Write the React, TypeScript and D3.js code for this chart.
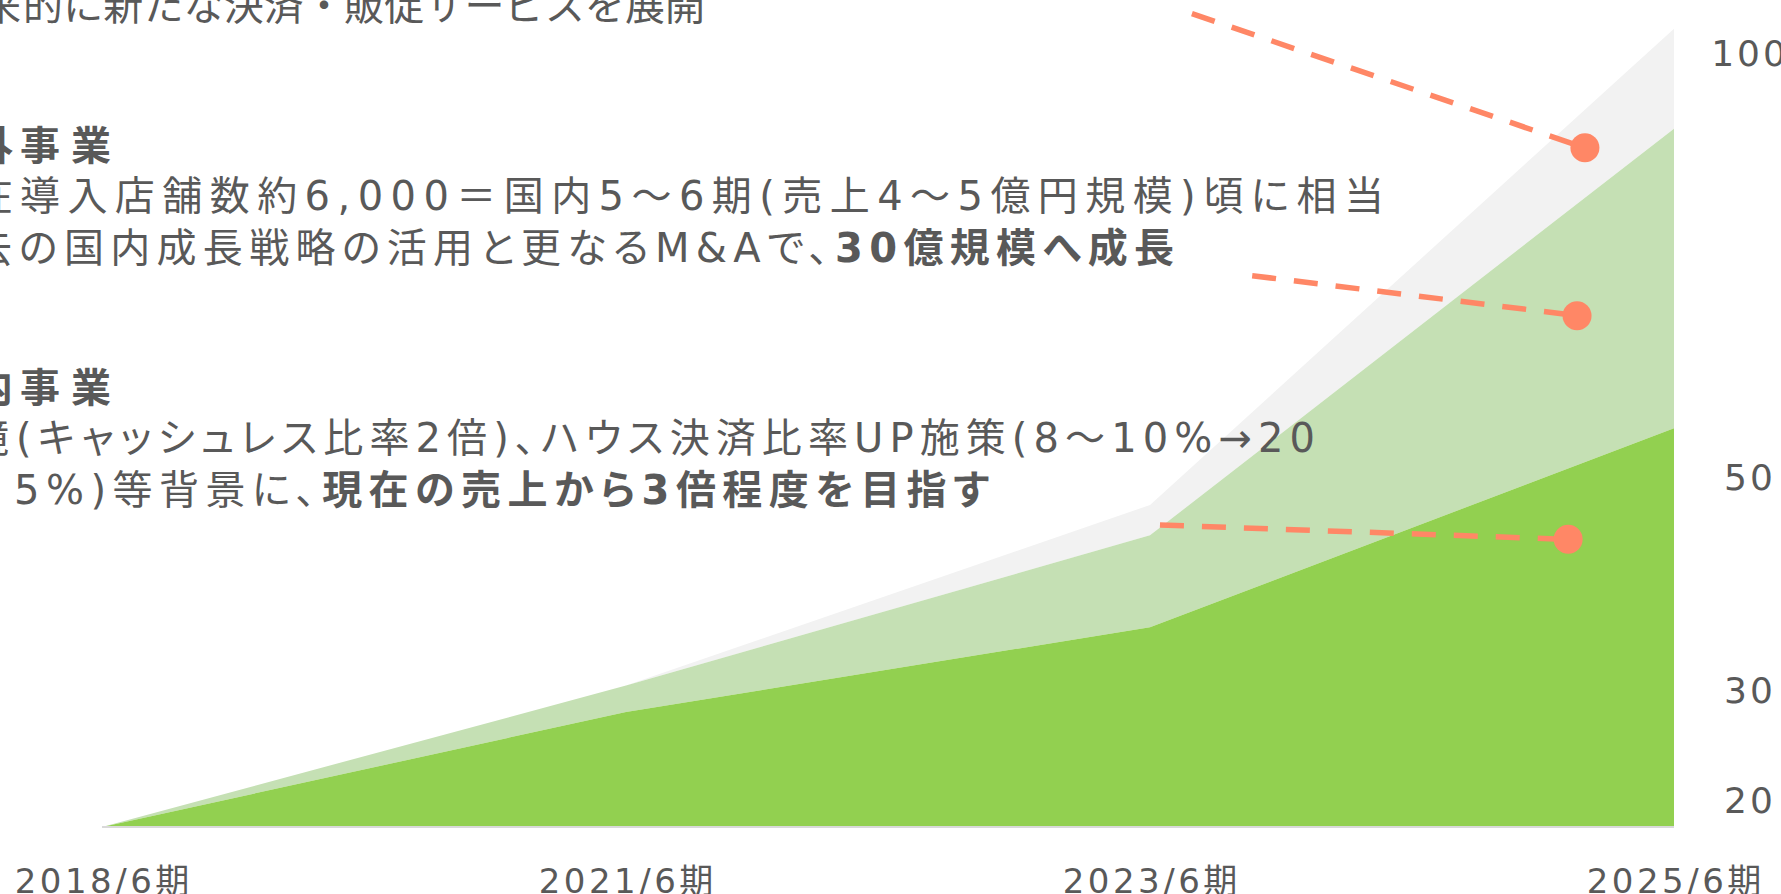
import React from "react";
import * as d3 from "d3";

// ---- data ----
const periods = ["2018/6期", "2021/6期", "2023/6期", "2025/6期"];
const domestic = [0, 14.4, 25.0, 49.9];
const overseas = [0, 3.3, 11.5, 37.5];
const newServices = [0, 0, 3.8, 12.5];
const axisTicks = [20, 30, 50, 100];
const seriesKeys = ["domestic", "overseas", "newServices"];
const seriesColors = ["#92d050", "#c5e0b4", "#f2f2f2"];

// callouts in data space: [period index, index value]
const callouts = [
  { from: [2.08, 101.8], to: [2.83, 85.0] },
  { from: [2.195, 69.0], to: [2.815, 64.0] },
  { from: [2.019, 37.8], to: [2.798, 36.0] },
];

type Part = { t: string; b?: boolean };
type Line = {
  y: number;
  x0: number;
  x1: number;
  prefix: string;
  gap: number;
  palt: boolean;
  prefixBold?: boolean;
  parts: Part[];
};

const textLines: Line[] = [
  { y: 20, x0: 23, x1: 705, prefix: "将来", gap: 2, palt: false, parts: [{ t: "的に新たな決済・販促サービスを展開" }] },
  { y: 160, x0: 20, x1: 111, prefix: "海外", gap: 7, palt: false, prefixBold: true, parts: [{ t: "事業", b: true }] },
  { y: 210, x0: 20, x1: 1384, prefix: "現在", gap: 7, palt: true, parts: [{ t: "導入店舗数約6,000＝国内5～6期(売上4～5億円規模)頃に相当" }] },
  { y: 262, x0: 19, x1: 1174, prefix: "過去", gap: 7, palt: true, parts: [{ t: "の国内成長戦略の活用と更なるM&Aで、" }, { t: "30億規模へ成長", b: true }] },
  { y: 402, x0: 20, x1: 111, prefix: "国内", gap: 7, palt: false, prefixBold: true, parts: [{ t: "事業", b: true }] },
  { y: 452, x0: 16, x1: 1315, prefix: "環境", gap: 7, palt: true, parts: [{ t: "(キャッシュレス比率2倍)、ハウス決済比率UP施策(8～10%→20" }] },
  { y: 504, x0: 14, x1: 989, prefix: "～2", gap: 18, palt: true, parts: [{ t: "5%)等背景に、" }, { t: "現在の売上から3倍程度を目指す", b: true }] },
];

const W = 1781;
const H = 894;
const FONT = "'DejaVu Sans', 'Noto Sans CJK JP', sans-serif";
const TEXT = "#595959";

export default function App() {
  const x = d3.scalePoint<string>().domain(periods).range([102, 1674]);
  const xc = d3.scaleLinear().domain([0, 3]).range([102, 1674]);
  const y = d3.scaleLinear().domain([0, 100]).range([827, 28]);
  const yAxis = d3.scaleLinear().domain(axisTicks).range([813, 703, 490, 66]);

  const rows = periods.map((p, i) => ({
    period: p,
    domestic: domestic[i],
    overseas: overseas[i],
    newServices: newServices[i],
  }));
  const stacked = d3.stack<any>().keys(seriesKeys)(rows);
  const area = d3
    .area<any>()
    .x((d) => x(d.data.period) as number)
    .y0((d) => y(d[0]))
    .y1((d) => y(d[1]));

  return (
    <svg
      width={W}
      height={H}
      style={{ position: "absolute", left: 0, top: 0, display: "block", background: "#fff" }}
    >
      {stacked
        .slice()
        .reverse()
        .map((s) => {
          const i = seriesKeys.indexOf(s.key);
          return <path key={s.key} d={area(s) || ""} fill={seriesColors[i]} />;
        })}
      <line
        x1={x(periods[0])}
        x2={x(periods[periods.length - 1])}
        y1={y(0)}
        y2={y(0)}
        stroke="#d9d9d9"
        strokeWidth={2}
      />

      {callouts.map((c, i) => (
        <g key={i}>
          <line
            x1={xc(c.from[0])}
            y1={y(c.from[1])}
            x2={xc(c.to[0])}
            y2={y(c.to[1])}
            stroke="#ff8766"
            strokeWidth={5.5}
            strokeDasharray="24 18"
          />
          <circle cx={xc(c.to[0])} cy={y(c.to[1])} r={14.5} fill="#ff8766" />
        </g>
      ))}

      {textLines.map((l, i) => (
        <g
          key={i}
          fontFamily={FONT}
          fontSize={40}
          fill={TEXT}
          style={l.palt ? { fontFeatureSettings: "'palt'" } : undefined}
        >
          <text x={l.x0 - l.gap} y={l.y} textAnchor="end" fontWeight={l.prefixBold ? 700 : 400}>
            {l.prefix}
          </text>
          <text x={l.x0} y={l.y} textLength={l.x1 - l.x0} lengthAdjust="spacing">
            {l.parts.map((p, j) => (
              <tspan key={j} fontWeight={p.b ? 700 : 400}>
                {p.t}
              </tspan>
            ))}
          </text>
        </g>
      ))}

      {axisTicks.map((t) => (
        <text
          key={t}
          x={1750}
          y={yAxis(t)}
          textAnchor="middle"
          fontFamily={FONT}
          fontSize={36}
          letterSpacing={3}
          fill={TEXT}
        >
          {t}
        </text>
      ))}

      {periods.map((p) => (
        <text
          key={p}
          x={(x(p) as number) + 1.75}
          y={893}
          textAnchor="middle"
          fontFamily={FONT}
          fontSize={34}
          letterSpacing={3.5}
          fill={TEXT}
        >
          {p}
        </text>
      ))}
    </svg>
  );
}
